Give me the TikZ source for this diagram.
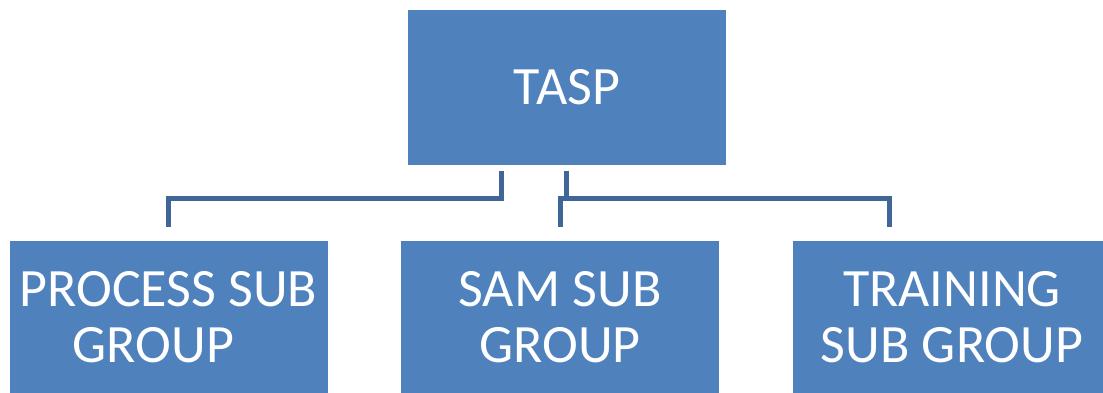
\documentclass[tikz,border=0pt]{standalone}
\usepackage{fontspec}
\setmainfont{Carlito}
\definecolor{boxblue}{RGB}{79,129,189}
\definecolor{linkblue}{RGB}{63,102,150}

\tikzset{group box/.style={fill=boxblue,draw=none,text=white,align=center,
  minimum width=318pt,minimum height=155pt,inner sep=0pt,
  font=\fontsize{54}{56}\selectfont},
sub box/.style={group box,minimum height=152.5pt},
link/.style={draw=linkblue,line width=5pt}}

\begin{document}
\begin{tikzpicture}[x=1pt,y=-1pt]
\useasboundingbox (0,0) rectangle (1103,392);
\clip (0,0) rectangle (1103,392);

%% boxes
\node [group box] (tasp) at (567,87.5) {TASP};
\node [sub box] (process) at (168.5,317) {PROCESS SUB\\GROUP\hspace*{30pt}};
\node [sub box] (sam) at (560,317) {SAM SUB\\GROUP};
\node [sub box] (training) at (952,317) {TRAINING\\SUB GROUP};

%% connector ends
\coordinate (tasp-l) at (501.7,171);
\coordinate (tasp-r) at (566.3,171);
\coordinate (process-in) at (168.5,226.7);
\coordinate (sam-in) at (560.3,226.7);
\coordinate (training-in) at (889.2,226.7);

%% connectors
\draw [link] (tasp-l) -- (501.7,198) -| (process-in);
\draw [link] (tasp-r) -- (566.3,198);
\draw [link] (sam-in) |- (889.2,198) -- (training-in);

\end{tikzpicture}
\end{document}
